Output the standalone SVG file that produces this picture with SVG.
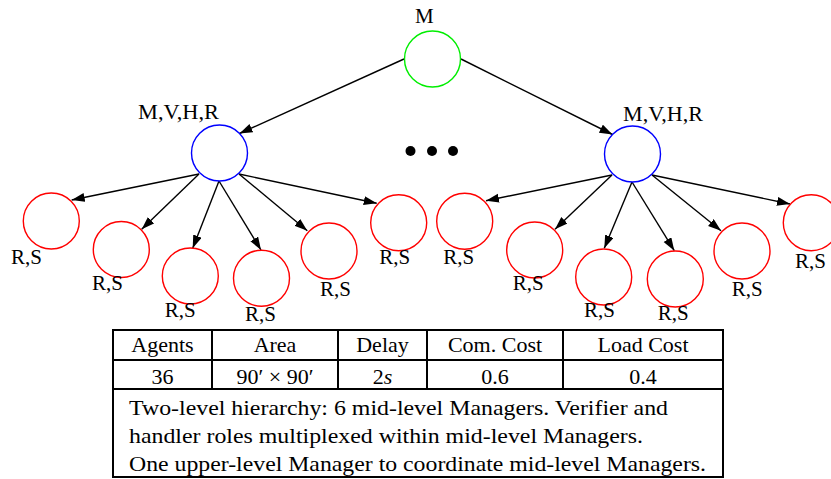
<svg xmlns="http://www.w3.org/2000/svg" width="831" height="479" viewBox="0 0 831 479">
<style>
.lbl{font-size:21px}
.tb{font-size:22px}
.mid{text-anchor:middle}
.node{fill:#fff;stroke-width:1.4}
.top{stroke:#00ee00}
.mgr{stroke:#0000ff}
.leaf{stroke:#ff0000}
.edge{stroke:#000;stroke-width:1.4;fill:none;marker-end:url(#ah)}
.tl{stroke:#000;stroke-width:2;fill:none}
</style>
<defs>
<marker id="ah" markerUnits="userSpaceOnUse" markerWidth="14" markerHeight="10" refX="13" refY="4.5" orient="auto">
<path d="M0,0 L13,4.5 L0,9 z" fill="#000"/>
</marker>
</defs>
<rect width="831" height="479" fill="#fff"/>
<g id="connectors">
<line class="edge" x1="404" y1="59" x2="239.5" y2="133.5"/>
<line class="edge" x1="461" y1="59" x2="612.5" y2="134.5"/>
<line class="edge" x1="199" y1="174" x2="71.7" y2="200"/>
<line class="edge" x1="199" y1="174" x2="141.7" y2="229.3"/>
<line class="edge" x1="219" y1="181" x2="192.7" y2="248.3"/>
<line class="edge" x1="219" y1="181" x2="261" y2="250"/>
<line class="edge" x1="239" y1="174" x2="307.3" y2="230.7"/>
<line class="edge" x1="239" y1="174" x2="376.7" y2="203.3"/>
<line class="edge" x1="612" y1="175" x2="486" y2="200.7"/>
<line class="edge" x1="612" y1="175" x2="555" y2="229.3"/>
<line class="edge" x1="632" y1="182" x2="604.3" y2="248.3"/>
<line class="edge" x1="632" y1="182" x2="674.3" y2="250.7"/>
<line class="edge" x1="652" y1="175" x2="721" y2="230.7"/>
<line class="edge" x1="652" y1="175" x2="790" y2="204"/>
</g>
<g font-family="Liberation Serif, serif" fill="#000">
<g id="node-top"><circle class="node top" cx="432.5" cy="59" r="28"/><text class="lbl" x="415" y="23">M</text></g>
<g id="node-mgr-left"><circle class="node mgr" cx="219.5" cy="153" r="28"/><text class="lbl" x="138" y="119" textLength="81" lengthAdjust="spacingAndGlyphs">M,V,H,R</text></g>
<g id="node-mgr-right"><circle class="node mgr" cx="632.5" cy="154" r="28"/><text class="lbl" x="623" y="121" textLength="80" lengthAdjust="spacingAndGlyphs">M,V,H,R</text></g>
<g id="ellipsis"><circle cx="410.5" cy="151" r="5"/><circle cx="432" cy="151" r="5"/><circle cx="453" cy="151" r="5"/></g>
<g id="leaf-l1"><circle class="node leaf" cx="51.3" cy="221" r="28"/><text class="lbl" x="11" y="264">R,S</text></g>
<g id="leaf-l2"><circle class="node leaf" cx="121.3" cy="249.5" r="28"/><text class="lbl" x="92" y="290">R,S</text></g>
<g id="leaf-l3"><circle class="node leaf" cx="190.3" cy="276" r="28"/><text class="lbl" x="164.7" y="317">R,S</text></g>
<g id="leaf-l4"><circle class="node leaf" cx="261.5" cy="278.3" r="28"/><text class="lbl" x="245" y="321">R,S</text></g>
<g id="leaf-l5"><circle class="node leaf" cx="329" cy="251" r="28"/><text class="lbl" x="320" y="296">R,S</text></g>
<g id="leaf-l6"><circle class="node leaf" cx="398.7" cy="222.7" r="28"/><text class="lbl" x="379.3" y="264">R,S</text></g>
<g id="leaf-r1"><circle class="node leaf" cx="464.7" cy="221.3" r="28"/><text class="lbl" x="443.3" y="264">R,S</text></g>
<g id="leaf-r2"><circle class="node leaf" cx="534.7" cy="250" r="28"/><text class="lbl" x="512.7" y="290">R,S</text></g>
<g id="leaf-r3"><circle class="node leaf" cx="603.7" cy="277" r="28"/><text class="lbl" x="584" y="317">R,S</text></g>
<g id="leaf-r4"><circle class="node leaf" cx="675.3" cy="279" r="28"/><text class="lbl" x="657.7" y="320">R,S</text></g>
<g id="leaf-r5"><circle class="node leaf" cx="742" cy="251" r="28"/><text class="lbl" x="731.7" y="296">R,S</text></g>
<g id="leaf-r6"><circle class="node leaf" cx="811.3" cy="222.7" r="28"/><text class="lbl" x="795" y="268">R,S</text></g>
<g id="table">
<path class="tl" d="M113,330 H723 M113,360 H723 M113,389 H723 M113,477 H723 M113,329 V478 M723,329 V478 M212,330 V389 M338,330 V389 M427,330 V389 M563,330 V389"/>
<text class="tb mid" x="162.5" y="352">Agents</text>
<text class="tb mid" x="275" y="352">Area</text>
<text class="tb mid" x="382.5" y="352">Delay</text>
<text class="tb mid" x="495" y="352">Com. Cost</text>
<text class="tb mid" x="643" y="352">Load Cost</text>
<text class="tb mid" x="162.5" y="384">36</text>
<text class="tb mid" x="275" y="384">90′ × 90′</text>
<text class="tb mid" x="382.5" y="384">2<tspan font-style="italic">s</tspan></text>
<text class="tb mid" x="495" y="384">0.6</text>
<text class="tb mid" x="643" y="384">0.4</text>
<text class="tb" x="129" y="415" textLength="539" lengthAdjust="spacingAndGlyphs">Two-level hierarchy: 6 mid-level Managers. Verifier and</text>
<text class="tb" x="129" y="443" textLength="514" lengthAdjust="spacingAndGlyphs">handler roles multiplexed within mid-level Managers.</text>
<text class="tb" x="129" y="471" textLength="577" lengthAdjust="spacingAndGlyphs">One upper-level Manager to coordinate mid-level Managers.</text>
</g>
</g>
</svg>
